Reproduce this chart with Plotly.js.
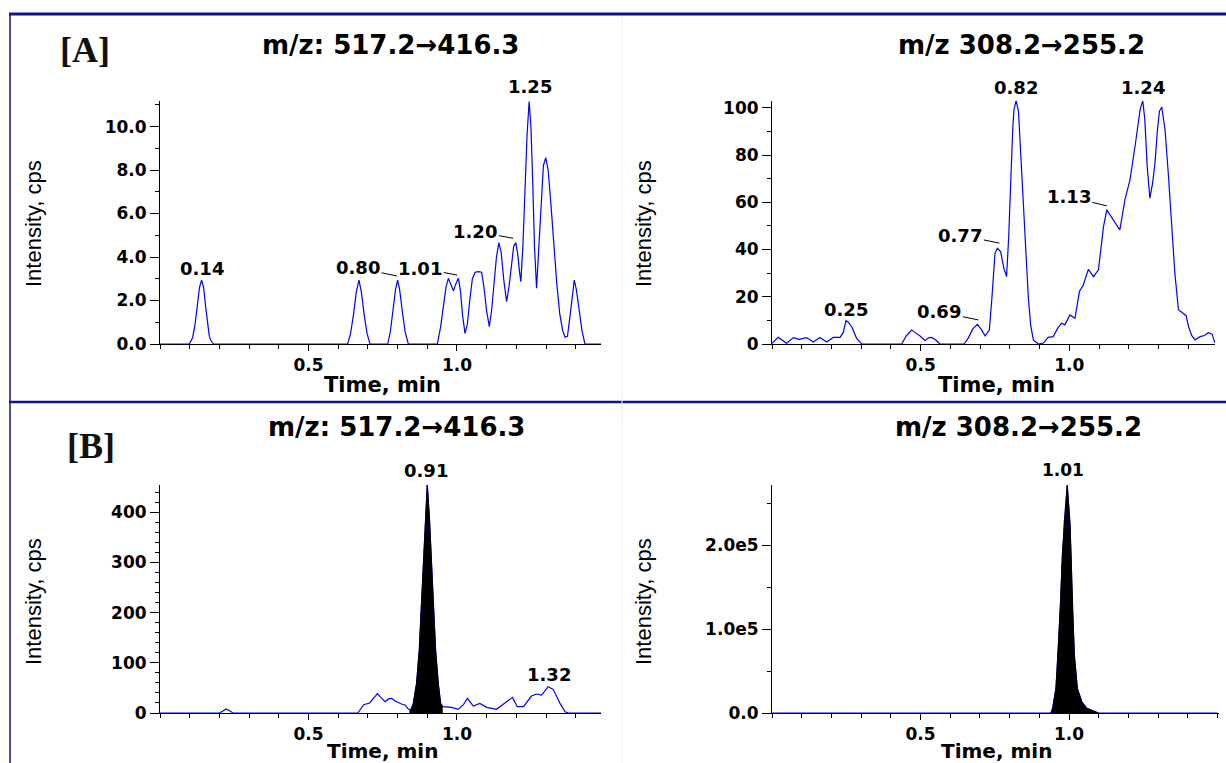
<!DOCTYPE html>
<html>
<head>
<meta charset="utf-8">
<script src="https://cdn.plot.ly/plotly-3.0.1.min.js"></script>
<style>
  html, body { margin: 0; padding: 0; background: #ffffff; }
  #chart { width: 1226px; height: 763px; }
</style>
</head>
<body>
<div id="chart"></div>
<script>
// ---------------- DATA ----------------
// [A] m/z 517.2 -> 416.3 (blank)
const timeA1 = [0.000,0.099,0.110,0.118,0.126,0.133,0.140,0.147,0.153,0.160,0.166,0.172,0.180,
  0.632,0.642,0.652,0.661,0.670,0.678,0.687,0.697,0.707,
  0.767,0.776,0.785,0.793,0.800,0.807,0.815,0.825,0.836,
  0.934,0.945,0.955,0.963,0.971,0.980,0.988,0.997,1.005,1.012,1.019,1.027,1.035,1.043,1.052,1.061,1.072,1.083,
  1.091,1.100,1.109,1.117,1.125,1.133,1.141,1.149,1.158,1.167,1.175,1.183,1.191,1.198,1.205,1.210,1.215,
  1.222,1.229,1.236,1.243,1.249,1.255,1.261,1.268,1.276,1.284,1.291,1.299,1.307,1.316,1.326,1.336,1.346,
  1.356,1.364,1.372,1.380,1.388,1.395,1.402,1.411,1.421,1.431,1.485];
const intA1 = [0,0,0.3,0.9,1.8,2.6,2.94,2.6,1.8,0.9,0.35,0.15,0,
  0,0.5,1.4,2.4,2.94,2.4,1.4,0.5,0,
  0,0.6,1.6,2.5,2.94,2.5,1.6,0.6,0,
  0,0.8,1.9,2.6,3.02,2.7,2.45,2.8,3.02,2.4,1.3,0.49,0.9,2.0,3.0,3.30,3.33,3.30,
  2.6,1.5,0.80,1.6,2.9,4.0,4.66,4.2,2.9,1.95,2.6,3.7,4.5,4.66,4.1,3.4,2.87,
  4.5,7.0,9.6,11.15,10.0,7.5,4.5,2.56,4.5,6.8,8.2,8.57,8.0,6.5,4.5,2.8,1.4,
  0.6,0.31,0.35,1.2,2.3,2.94,2.5,1.5,0.6,0,0];

// [A] m/z 308.2 -> 255.2 (blank)
const timeA2 = [0.000,0.021,0.049,0.072,0.092,0.116,0.139,0.161,0.184,0.206,0.229,0.240,0.249,0.258,0.268,0.277,0.285,0.302,
  0.436,0.452,0.470,0.484,0.498,0.515,0.526,0.537,0.551,0.565,
  0.646,0.660,0.676,0.691,0.705,0.717,0.731,0.740,0.750,0.758,0.769,0.780,0.789,0.796,0.803,0.810,0.814,0.821,0.829,
  0.837,0.845,0.853,0.862,0.870,0.879,0.896,0.913,0.929,0.946,0.960,0.974,0.985,1.002,1.019,1.034,1.047,1.064,
  1.081,1.098,1.115,1.126,1.148,1.170,1.187,1.204,1.221,1.230,1.238,1.247,1.254,1.262,1.271,1.280,1.288,1.296,
  1.303,1.311,1.322,1.333,1.344,1.355,1.367,1.380,1.393,1.401,1.412,1.423,1.440,1.455,1.468,1.480,1.490];
const intA2 = [0.3,2.8,0.3,2.7,2.0,2.7,0.8,2.8,0.8,2.8,2.8,5.0,9.9,9.0,7.3,4.5,2.3,0,
  0,3.5,5.9,4.6,3.4,1.4,2.6,2.8,1.7,0,
  0,2.5,6.5,8.3,6.0,3.4,5.9,20,38.4,40.5,39.1,32,28.5,45,71.6,92,99.2,103,98.5,
  80,59.6,38,20,8,1.7,0,0.4,2.8,3.1,6.5,8.8,8.1,12.3,10.9,22.2,25,31.6,
  28.5,31.4,49.7,56.8,52.5,48.3,61,69.5,83.6,93,99.2,103,95,75.1,61.7,68,76.3,90,
  98.5,100.3,90.7,72,52.5,30,14.5,13.2,12,7.3,3.5,1.7,3.1,3.6,4.8,4.2,0.4];

// [B] m/z 517.2 -> 416.3 (sample) - full trace
const timeB1 = [0.000,0.200,0.212,0.222,0.233,0.246,0.666,0.686,0.706,0.720,0.732,0.745,0.758,0.770,0.780,0.792,
  0.802,0.813,0.825,0.836,0.844,0.853,0.864,0.873,0.881,0.889,0.8945,0.900,0.907,0.912,0.920,0.928,0.937,0.945,0.952,
  0.954,0.982,1.004,1.021,1.035,1.055,1.077,1.100,1.133,1.161,1.187,1.203,1.224,1.251,1.268,1.285,1.307,1.324,
  1.347,1.364,1.375,1.485];
const intB1 = [0,0,4,8,5,0,0,16.6,20,30,38.5,30,22.6,28,29,24,
  20.6,18,16,8,6,19,59,125,225,325,391,454,391,325,225,125,59,19,12.6,
  12.6,11.3,7.3,16,29.2,13.9,19.2,11.3,7.3,19.2,31.1,12.6,12.6,33.8,37.8,35.8,52.4,47.1,
  19.2,2.6,0,0];
// [B] integrated peak (filled) at 0.91
const peakTimeB1 = [0.840,0.847,0.853,0.864,0.873,0.881,0.889,0.8945,0.900,0.907,0.912,0.920,0.928,0.937,0.945,0.952];
const peakIntB1  = [4,8,19,59,125,225,325,391,454,391,325,225,125,59,19,12];

// [B] m/z 308.2 -> 255.2 (sample)
const timeB2 = [0.000,0.939,0.945,0.956,0.963,0.971,0.977,0.984,0.994,1.003,1.007,1.011,1.018,1.028,1.043,1.060,1.088,1.099,1.500];
const intB2  = [0,0,5600,29300,68800,128100,187400,226900,271200,226900,187400,128100,68800,29300,13400,5600,1540,0,0];
const peakTimeB2 = [0.939,0.945,0.956,0.963,0.971,0.977,0.984,0.994,1.003,1.007,1.011,1.018,1.028,1.043,1.060,1.088,1.099];
const peakIntB2  = [0,5600,29300,68800,128100,187400,226900,271200,226900,187400,128100,68800,29300,13400,5600,1540,0];

// tick labels
const xTickVals = [0.5, 1.0];
const xTickText = ['0.5', '1.0'];
const yTicksA1 = [0, 2, 4, 6, 8, 10];
const yTextA1  = ['0.0', '2.0', '4.0', '6.0', '8.0', '10.0'];
const yTicksA2 = [0, 20, 40, 60, 80, 100];
const yTextA2  = ['0', '20', '40', '60', '80', '100'];
const yTicksB1 = [0, 100, 200, 300, 400];
const yTextB1  = ['0', '100', '200', '300', '400'];
const yTicksB2 = [0, 100000, 200000];
const yTextB2  = ['0.0', '1.0e5', '2.0e5'];

// texts
const titleLeft = 'm/z: 517.2\u2192416.3';
const titleRight = 'm/z 308.2\u2192255.2';
const yTitle = 'Intensity, cps';
const xTitle = 'Time, min';

// ---------------- STYLE ----------------
const W = 1226, H = 763;
const px = v => v / W;
const py = v => 1 - v / H;
const BOLD = 'DejaVu Sans';
const tickFont = {family: BOLD, size: 17, color: '#000', weight: 'bold'};
const blue = '#0000ff';

function xAxis(d0, d1, r1, anchor) {
  return {
    domain: [px(d0), px(d1)], range: [0, r1], anchor: anchor,
    showline: true, linecolor: '#000', linewidth: 1, mirror: false,
    ticks: 'outside', ticklen: 6, tickwidth: 1, tickcolor: '#000',
    tickmode: 'array', tickvals: xTickVals, ticktext: xTickText,
    tickfont: tickFont, showgrid: false, zeroline: false, fixedrange: true,
    minor: {tickmode: 'linear', tick0: 0, dtick: 0.1, ticks: 'outside', ticklen: 4, tickwidth: 1, tickcolor: '#000', showgrid: false}
  };
}
function yAxis(b, t, r1, vals, text, minorStep, anchor) {
  return {
    domain: [py(b), py(t)], range: [0, r1], anchor: anchor,
    showline: true, linecolor: '#000', linewidth: 1,
    ticks: 'outside', ticklen: 9, tickwidth: 1, tickcolor: '#000',
    tickmode: 'array', tickvals: vals, ticktext: text,
    tickfont: tickFont, showgrid: false, zeroline: false, fixedrange: true,
    minor: {tickmode: 'linear', tick0: 0, dtick: minorStep, ticks: 'outside', ticklen: 4, tickwidth: 1, tickcolor: '#000', showgrid: false}
  };
}

const traces = [
  {x: timeA1, y: intA1, xaxis: 'x', yaxis: 'y', type: 'scatter', mode: 'lines', line: {color: blue, width: 1.2}, hoverinfo: 'skip'},
  {x: timeA2, y: intA2, xaxis: 'x2', yaxis: 'y2', type: 'scatter', mode: 'lines', line: {color: blue, width: 1.2}, hoverinfo: 'skip'},
  {x: timeB1, y: intB1, xaxis: 'x3', yaxis: 'y3', type: 'scatter', mode: 'lines', line: {color: blue, width: 1.2}, hoverinfo: 'skip'},
  {x: peakTimeB1, y: peakIntB1, xaxis: 'x3', yaxis: 'y3', type: 'scatter', mode: 'lines', fill: 'tozeroy', fillcolor: '#000', line: {color: '#000', width: 1}, hoverinfo: 'skip'},
  {x: timeB2, y: intB2, xaxis: 'x4', yaxis: 'y4', type: 'scatter', mode: 'lines', line: {color: blue, width: 1.2}, hoverinfo: 'skip'},
  {x: peakTimeB2, y: peakIntB2, xaxis: 'x4', yaxis: 'y4', type: 'scatter', mode: 'lines', fill: 'tozeroy', fillcolor: '#000', line: {color: '#000', width: 1}, hoverinfo: 'skip'}
];

const lblFont = {family: BOLD, size: 18, color: '#000', weight: 'bold'};
function plain(xr, yr, x, y, text, font) {
  return {xref: xr, yref: yr, x: x, y: y, text: text, showarrow: false, font: font || lblFont, xanchor: 'center', yanchor: 'middle'};
}
function lead(xr, yr, x, y, text, ax, ay) {
  return {xref: xr, yref: yr, x: x, y: y, text: text, showarrow: true, arrowhead: 0, arrowwidth: 1, arrowcolor: '#000',
    ax: ax, ay: ay, standoff: 0, startstandoff: 0, font: lblFont, xanchor: 'center', yanchor: 'middle'};
}
const titleFont = {family: BOLD, size: 26, color: '#000', weight: 'bold'};
const panelFont = {family: 'Liberation Serif', size: 36, color: '#111', weight: 'bold'};
const yTitleFont = {family: 'Liberation Sans', size: 22, color: '#000'};
const xTitleFont = {family: BOLD, size: 21, color: '#000', weight: 'bold'};
const xTitleFontLow = {family: BOLD, size: 20, color: '#000', weight: 'bold'};

const annotations = [
  // panel tags
  plain('paper', 'paper', px(85), py(50), '[A]', panelFont),
  plain('paper', 'paper', px(91), py(446), '[B]', panelFont),
  // titles
  plain('paper', 'paper', px(390), py(45), titleLeft, titleFont),
  plain('paper', 'paper', px(1021), py(45), titleRight, titleFont),
  plain('paper', 'paper', px(396), py(427), titleLeft, titleFont),
  plain('paper', 'paper', px(1018), py(427), titleRight, titleFont),
  // y titles
  Object.assign(plain('paper', 'paper', px(33), py(224), yTitle, yTitleFont), {textangle: -90}),
  Object.assign(plain('paper', 'paper', px(643), py(224), yTitle, yTitleFont), {textangle: -90}),
  Object.assign(plain('paper', 'paper', px(33), py(602), yTitle, yTitleFont), {textangle: -90}),
  Object.assign(plain('paper', 'paper', px(643), py(602), yTitle, yTitleFont), {textangle: -90}),
  // x titles
  plain('paper', 'paper', px(382), py(385), xTitle, xTitleFont),
  plain('paper', 'paper', px(996), py(385), xTitle, xTitleFont),
  plain('paper', 'paper', px(382), py(751), xTitle, xTitleFontLow),
  plain('paper', 'paper', px(996), py(751), xTitle, xTitleFontLow),
  // peak labels panel A left
  plain('x', 'y', 0.140, 3.48, '0.14'),
  lead('x', 'y', 0.798, 3.13, '0.80', -39, -8),
  lead('x', 'y', 1.001, 3.17, '1.01', -37, -7),
  lead('x', 'y', 1.190, 4.86, '1.20', -38, -7),
  plain('paper', 'paper', px(530), py(87), '1.25'),
  // peak labels panel A right
  plain('x2', 'y2', 0.249, 14.4, '0.25'),
  lead('x2', 'y2', 0.694, 10.2, '0.69', -39, -8),
  lead('x2', 'y2', 0.765, 42.7, '0.77', -39, -8),
  plain('paper', 'paper', px(1016), py(88), '0.82'),
  lead('x2', 'y2', 1.126, 58.5, '1.13', -38, -9),
  plain('paper', 'paper', px(1143), py(88), '1.24'),
  // peak labels panel B
  plain('paper', 'paper', px(426), py(470), '0.91'),
  plain('x3', 'y3', 1.310, 76.7, '1.32'),
  plain('paper', 'paper', px(1063), py(470), '1.01', {family: BOLD, size: 17, color: '#000', weight: 'bold'})
];

const navy = '#12128a';
const shapes = [
  {type: 'line', xref: 'paper', yref: 'paper', x0: px(9), x1: 1, y0: py(14), y1: py(14), line: {color: navy, width: 3}},
  {type: 'line', xref: 'paper', yref: 'paper', x0: px(9), x1: 1, y0: py(402), y1: py(402), line: {color: navy, width: 2.5}},
  {type: 'line', xref: 'paper', yref: 'paper', x0: px(10), x1: px(10), y0: 0, y1: py(14), line: {color: navy, width: 1.5}},
  {type: 'line', xref: 'paper', yref: 'paper', x0: px(622), x1: px(622), y0: 0, y1: py(16), line: {color: '#ececec', width: 1}}
];

const layout = {
  width: W, height: H,
  margin: {l: 0, r: 0, t: 0, b: 0, pad: 0},
  paper_bgcolor: '#ffffff', plot_bgcolor: 'rgba(0,0,0,0)',
  showlegend: false,
  xaxis:  xAxis(160, 601, 1.485, 'y'),
  yaxis:  yAxis(344, 100.7, 11.19, yTicksA1, yTextA1, 1, 'x'),
  xaxis2: xAxis(772, 1215, 1.490, 'y2'),
  yaxis2: yAxis(344, 100.7, 103, yTicksA2, yTextA2, 10, 'x2'),
  xaxis3: xAxis(160, 601, 1.485, 'y3'),
  yaxis3: yAxis(713, 485, 454, yTicksB1, yTextB1, 20, 'x3'),
  xaxis4: xAxis(772, 1219, 1.505, 'y4'),
  yaxis4: yAxis(713, 485, 271500, yTicksB2, yTextB2, 50000, 'x4'),
  annotations: annotations,
  shapes: shapes
};

Plotly.newPlot('chart', traces, layout, {staticPlot: true, displayModeBar: false, responsive: false});
</script>
</body>
</html>
